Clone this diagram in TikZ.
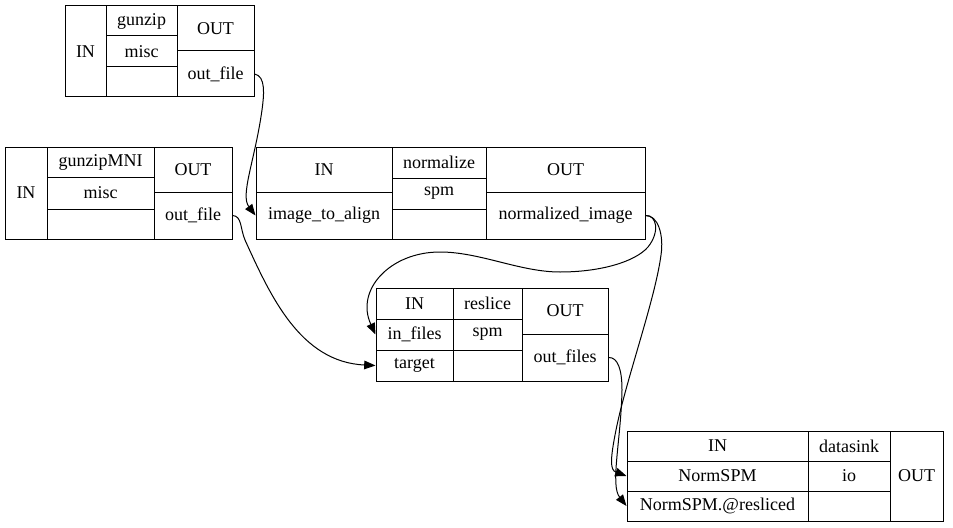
\documentclass[tikz,border=0pt]{standalone}
\usepackage{fontspec}
\setmainfont{Liberation Serif}
\usetikzlibrary{arrows.meta}
\tikzstyle{cell}=[draw, line width=0.75pt, inner sep=0pt, font=\fontsize{13.5}{15}\selectfont]
\tikzset{box/.style n args={4}{cell, at={({(#1+#3)/2},{(#2+#4)/2})},
  minimum width={(#3-#1)*0.75pt}, minimum height={(#4-#2)*0.75pt}}}
\tikzstyle{edg}=[line width=0.75pt, -{Triangle[length=8.5pt,width=6.5pt]}]

\begin{document}
\begin{tikzpicture}[x=0.75pt,y=-0.75pt]
\useasboundingbox (0,0) rectangle (953,528);

% gunzip
\node (gz-in)   [box={65}{6}{106}{97}] {IN};
\node (gz-name) [box={106}{6}{177}{36}] {gunzip};
\node (gz-type) [box={106}{36}{177}{67}] {misc};
\node (gz-nil)  [box={106}{67}{177}{97}] {};
\node (gz-out)  [box={177}{6}{254}{51}] {OUT};
\node (gz-of)   [box={177}{51}{254}{97}] {out\_file};

% gunzipMNI
\node (gm-in)   [box={5}{147}{47}{239}] {IN};
\node (gm-name) [box={47}{147}{154}{177}] {gunzipMNI};
\node (gm-type) [box={47}{177}{154}{209}] {misc};
\node (gm-nil)  [box={47}{209}{154}{239}] {};
\node (gm-out)  [box={154}{147}{232}{192}] {OUT};
\node (gm-of)   [box={154}{192}{232}{239}] {out\_file};

% normalize
\node (nm-in)   [box={256}{147}{392}{192}] {IN};
\node (nm-ia)   [box={256}{192}{392}{239}] {image\_to\_align};
\node (nm-name) [box={392}{147}{486}{178}] {normalize};
\node (nm-type) [box={392}{178}{486}{209}] {spm};
\node (nm-nil)  [box={392}{209}{486}{239}] {};
\node (nm-out)  [box={486}{147}{645}{192}] {OUT};
\node (nm-ni)   [box={486}{192}{645}{239}] {normalized\_image};

% reslice
\node (rs-in)   [box={376}{288}{453}{319}] {IN};
\node (rs-if)   [box={376}{319}{453}{350}] {in\_files};
\node (rs-tg)   [box={376}{350}{453}{381}] {target};
\node (rs-name) [box={453}{288}{522}{319}] {reslice};
\node (rs-type) [box={453}{319}{522}{350}] {spm};
\node (rs-nil)  [box={453}{350}{522}{381}] {};
\node (rs-out)  [box={522}{288}{608}{334}] {OUT};
\node (rs-of)   [box={522}{334}{608}{381}] {out\_files};

% datasink
\node (ds-in)   [box={627}{431}{808}{461}] {IN};
\node (ds-ns)   [box={627}{461}{808}{491}] {NormSPM};
\node (ds-nr)   [box={627}{491}{808}{521}] {NormSPM.@resliced};
\node (ds-name) [box={808}{431}{890}{461}] {datasink};
\node (ds-type) [box={808}{461}{890}{491}] {io};
\node (ds-nil)  [box={808}{491}{890}{521}] {};
\node (ds-out)  [box={890}{431}{943}{521}] {OUT};

\draw[edg] (gz-of.east) .. controls (266,76) and (264,95) .. (262,110)
  .. controls (255,160) and (240,195) .. (nm-ia.west);
\draw[edg] (gm-of.east) .. controls (242,216) and (240,228) .. (245,240)
  .. controls (270,295) and (300,362) .. (rs-tg.west);
\draw[edg] (nm-ni.east) .. controls (657,215) and (660,232) .. (648,247)
  .. controls (635,262) and (600,272) .. (560,272)
  .. controls (520,272) and (480,252) .. (440,252)
  .. controls (390,252) and (355,290) .. (rs-if.west);
\draw[edg] (nm-ni.east) .. controls (658,215) and (664,235) .. (661,255)
  .. controls (655,300) and (626,380) .. (616,430)
  .. controls (610,460) and (610,470) .. (ds-ns.west);
\draw[edg] (rs-of.east) .. controls (618,357) and (622,370) .. (622,390)
  .. controls (621,440) and (610,485) .. (ds-nr.west);

\end{tikzpicture}
\end{document}
